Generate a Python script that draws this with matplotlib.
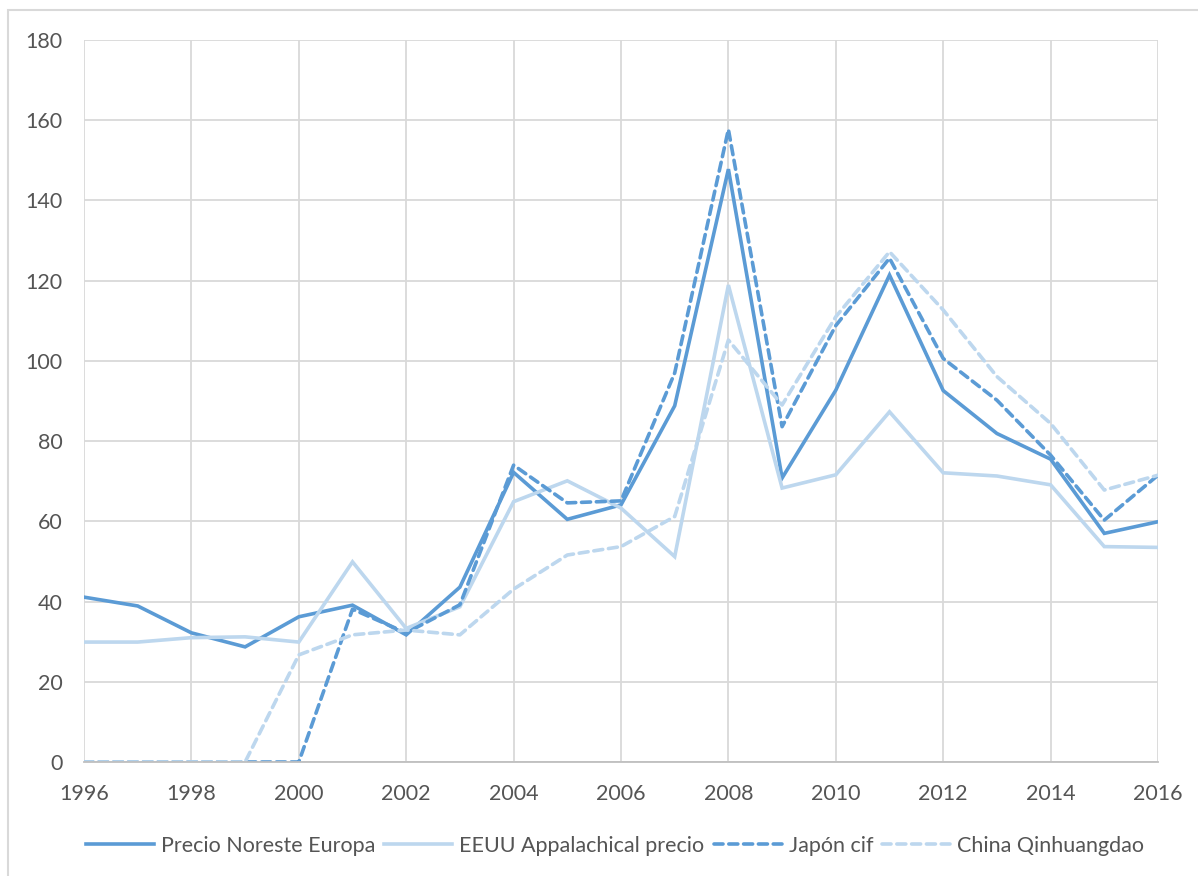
import matplotlib
matplotlib.use("Agg")
import matplotlib.pyplot as plt
from matplotlib.patches import Rectangle

years = list(range(1996, 2017))

precio_noreste_europa = [41.1, 38.9, 32.2, 28.7, 36.2, 39.1, 31.7, 43.6, 72.2, 60.5,
                         64.1, 88.8, 147.8, 70.8, 92.7, 121.4, 92.6, 81.9, 75.5, 57.0, 59.9]
eeuu_appalachical = [29.9, 29.9, 31.0, 31.2, 29.9, 49.9, 33.3, 38.7, 64.9, 70.1,
                     63.3, 51.2, 118.9, 68.3, 71.6, 87.3, 72.1, 71.3, 69.1, 53.7, 53.5]
japon_cif = [0, 0, 0, 0, 0, 38.1, 32.2, 39.2, 74.0, 64.6,
             65.1, 97.0, 157.7, 83.6, 108.8, 125.6, 100.6, 90.2, 76.5, 60.3, 71.5]
china_qinhuangdao = [0, 0, 0, 0, 26.7, 31.7, 32.9, 31.7, 43.1, 51.6,
                     53.7, 61.2, 105.2, 89.0, 111.0, 127.2, 112.7, 96.1, 84.4, 67.8, 71.5]

labels = ["Precio Noreste Europa", "EEUU Appalachical precio", "Japón cif", "China Qinhuangdao"]

DARK = "#5B9BD5"
LIGHT = "#BDD7EE"
GRID = "#D9D9D9"
TEXT = "#555555"

plt.rcParams["font.family"] = ["Lato", "DejaVu Sans"]

fig = plt.figure(figsize=(11.98, 8.76), dpi=100)
fig.patch.set_facecolor("white")

# chart-area border
fig.patches.append(Rectangle((8 / 1198, -0.05), 1.2, 1 - 10 / 876 + 0.05,
                             transform=fig.transFigure, fill=False,
                             edgecolor=GRID, linewidth=1.5))

ax = fig.add_axes([84 / 1198, 1 - 762 / 876, (1158 - 84) / 1198, (762 - 40) / 876])

lw = 2.6
ax.plot(years, precio_noreste_europa, color=DARK, lw=lw, label=labels[0],
        solid_joinstyle="miter")
ax.plot(years, eeuu_appalachical, color=LIGHT, lw=lw, label=labels[1],
        solid_joinstyle="miter")
ax.plot(years, japon_cif, color=DARK, lw=lw, label=labels[2],
        dashes=(2.5, 1.6), dash_capstyle="round")
ax.plot(years, china_qinhuangdao, color=LIGHT, lw=lw, label=labels[3],
        dashes=(2.5, 1.6), dash_capstyle="round")

ax.set_xlim(1996, 2016)
ax.set_ylim(0, 180)
ax.set_xticks(range(1996, 2017, 2))
ax.set_yticks(range(0, 181, 20))
ax.grid(True, color=GRID, linewidth=1.3)
ax.set_axisbelow(True)
for side in ["top", "right", "left"]:
    ax.spines[side].set_visible(False)
ax.spines["bottom"].set_color("#BFBFBF")
ax.spines["bottom"].set_linewidth(1.3)
ax.tick_params(axis="both", length=0, labelsize=15.5, colors=TEXT)
ax.tick_params(axis="y", pad=15.5)
ax.tick_params(axis="x", pad=16)

leg = fig.legend(loc="center", bbox_to_anchor=(615 / 1198, 1 - 846 / 876), ncol=4,
                 frameon=False, fontsize=15.5, handlelength=3.16, handletextpad=0.33,
                 columnspacing=0.42)
for t in leg.get_texts():
    t.set_color(TEXT)

fig.savefig("out.png", dpi=100, facecolor="white")
